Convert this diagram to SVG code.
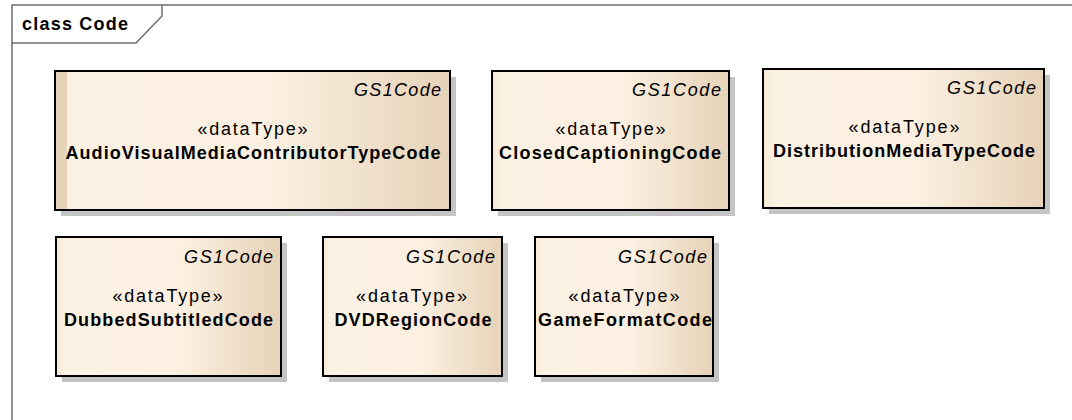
<svg xmlns="http://www.w3.org/2000/svg" width="1072" height="420" viewBox="0 0 1072 420">
<style>
text{font-family:"Liberation Sans",Arial,sans-serif;fill:#000}
.frame{fill:none;stroke:#6e6e6e;stroke-width:1.5}
.shadow{fill:#c4c4c4}
.box{fill:url(#g);stroke:#000;stroke-width:2}
.tag{font-size:18px;font-style:italic;text-anchor:end}
.st{font-size:18px;text-anchor:middle}
.nm{font-size:18px;font-weight:bold;text-anchor:middle}
.title{font-size:18px;font-weight:bold}
</style>
<defs>
<linearGradient id="g" x1="0" y1="0" x2="1" y2="0">
<stop offset="0" stop-color="#f6e8d3"/>
<stop offset="0.04" stop-color="#fcf2e4"/>
<stop offset="0.55" stop-color="#fbf0e1"/>
<stop offset="1" stop-color="#e6d2b7"/>
</linearGradient>
</defs>
<rect width="1072" height="420" fill="#fff"/>
<g id="frame">
<path class="frame" d="M12,420 V5 H1072"/>
<path class="frame" d="M12,43 H136 L162,16 V5"/>
<text class="title" x="22" y="30" textLength="106" lengthAdjust="spacing">class Code</text>
</g>
<g id="AudioVisualMediaContributorTypeCode">
<rect class="shadow" x="61" y="77" width="395" height="139"/>
<rect class="box" x="55" y="71" width="395" height="139"/>
<rect x="56" y="72" width="11" height="137" fill="#e6d3b9"/>
<text class="tag" x="441" y="96" textLength="87" lengthAdjust="spacing">GS1Code</text>
<text class="st" x="252.5" y="135" textLength="110" lengthAdjust="spacing">«dataType»</text>
<text class="nm" x="253" y="159" textLength="375" lengthAdjust="spacing">AudioVisualMediaContributorTypeCode</text>
</g>
<g id="ClosedCaptioningCode">
<rect class="shadow" x="498" y="77" width="237" height="139"/>
<rect class="box" x="492" y="71" width="237" height="139"/>
<text class="tag" x="721" y="96" textLength="89" lengthAdjust="spacing">GS1Code</text>
<text class="st" x="610.5" y="135" textLength="110" lengthAdjust="spacing">«dataType»</text>
<text class="nm" x="610" y="159" textLength="222" lengthAdjust="spacing">ClosedCaptioningCode</text>
</g>
<g id="DistributionMediaTypeCode">
<rect class="shadow" x="769" y="75" width="281" height="139"/>
<rect class="box" x="763" y="69" width="281" height="139"/>
<text class="tag" x="1036" y="94" textLength="89" lengthAdjust="spacing">GS1Code</text>
<text class="st" x="904" y="133" textLength="111" lengthAdjust="spacing">«dataType»</text>
<text class="nm" x="904" y="157" textLength="262" lengthAdjust="spacing">DistributionMediaTypeCode</text>
</g>
<g id="DubbedSubtitledCode">
<rect class="shadow" x="62" y="243" width="225" height="139"/>
<rect class="box" x="56" y="237" width="225" height="139"/>
<text class="tag" x="273" y="262.5" textLength="89" lengthAdjust="spacing">GS1Code</text>
<text class="st" x="167.5" y="301.5" textLength="110" lengthAdjust="spacing">«dataType»</text>
<text class="nm" x="168.5" y="326" textLength="209" lengthAdjust="spacing">DubbedSubtitledCode</text>
</g>
<g id="DVDRegionCode">
<rect class="shadow" x="329" y="243" width="179" height="139"/>
<rect class="box" x="323" y="237" width="179" height="139"/>
<text class="tag" x="495" y="262.5" textLength="89" lengthAdjust="spacing">GS1Code</text>
<text class="st" x="411.5" y="301.5" textLength="111" lengthAdjust="spacing">«dataType»</text>
<text class="nm" x="413" y="326" textLength="157" lengthAdjust="spacing">DVDRegionCode</text>
</g>
<g id="GameFormatCode">
<rect class="shadow" x="541" y="243" width="178" height="139"/>
<rect class="box" x="535" y="237" width="178" height="139"/>
<text class="tag" x="707" y="262.5" textLength="89" lengthAdjust="spacing">GS1Code</text>
<text class="st" x="624" y="301.5" textLength="111" lengthAdjust="spacing">«dataType»</text>
<text class="nm" x="625" y="326" textLength="174" lengthAdjust="spacing">GameFormatCode</text>
</g>
<g id="connectors"/>
</svg>
